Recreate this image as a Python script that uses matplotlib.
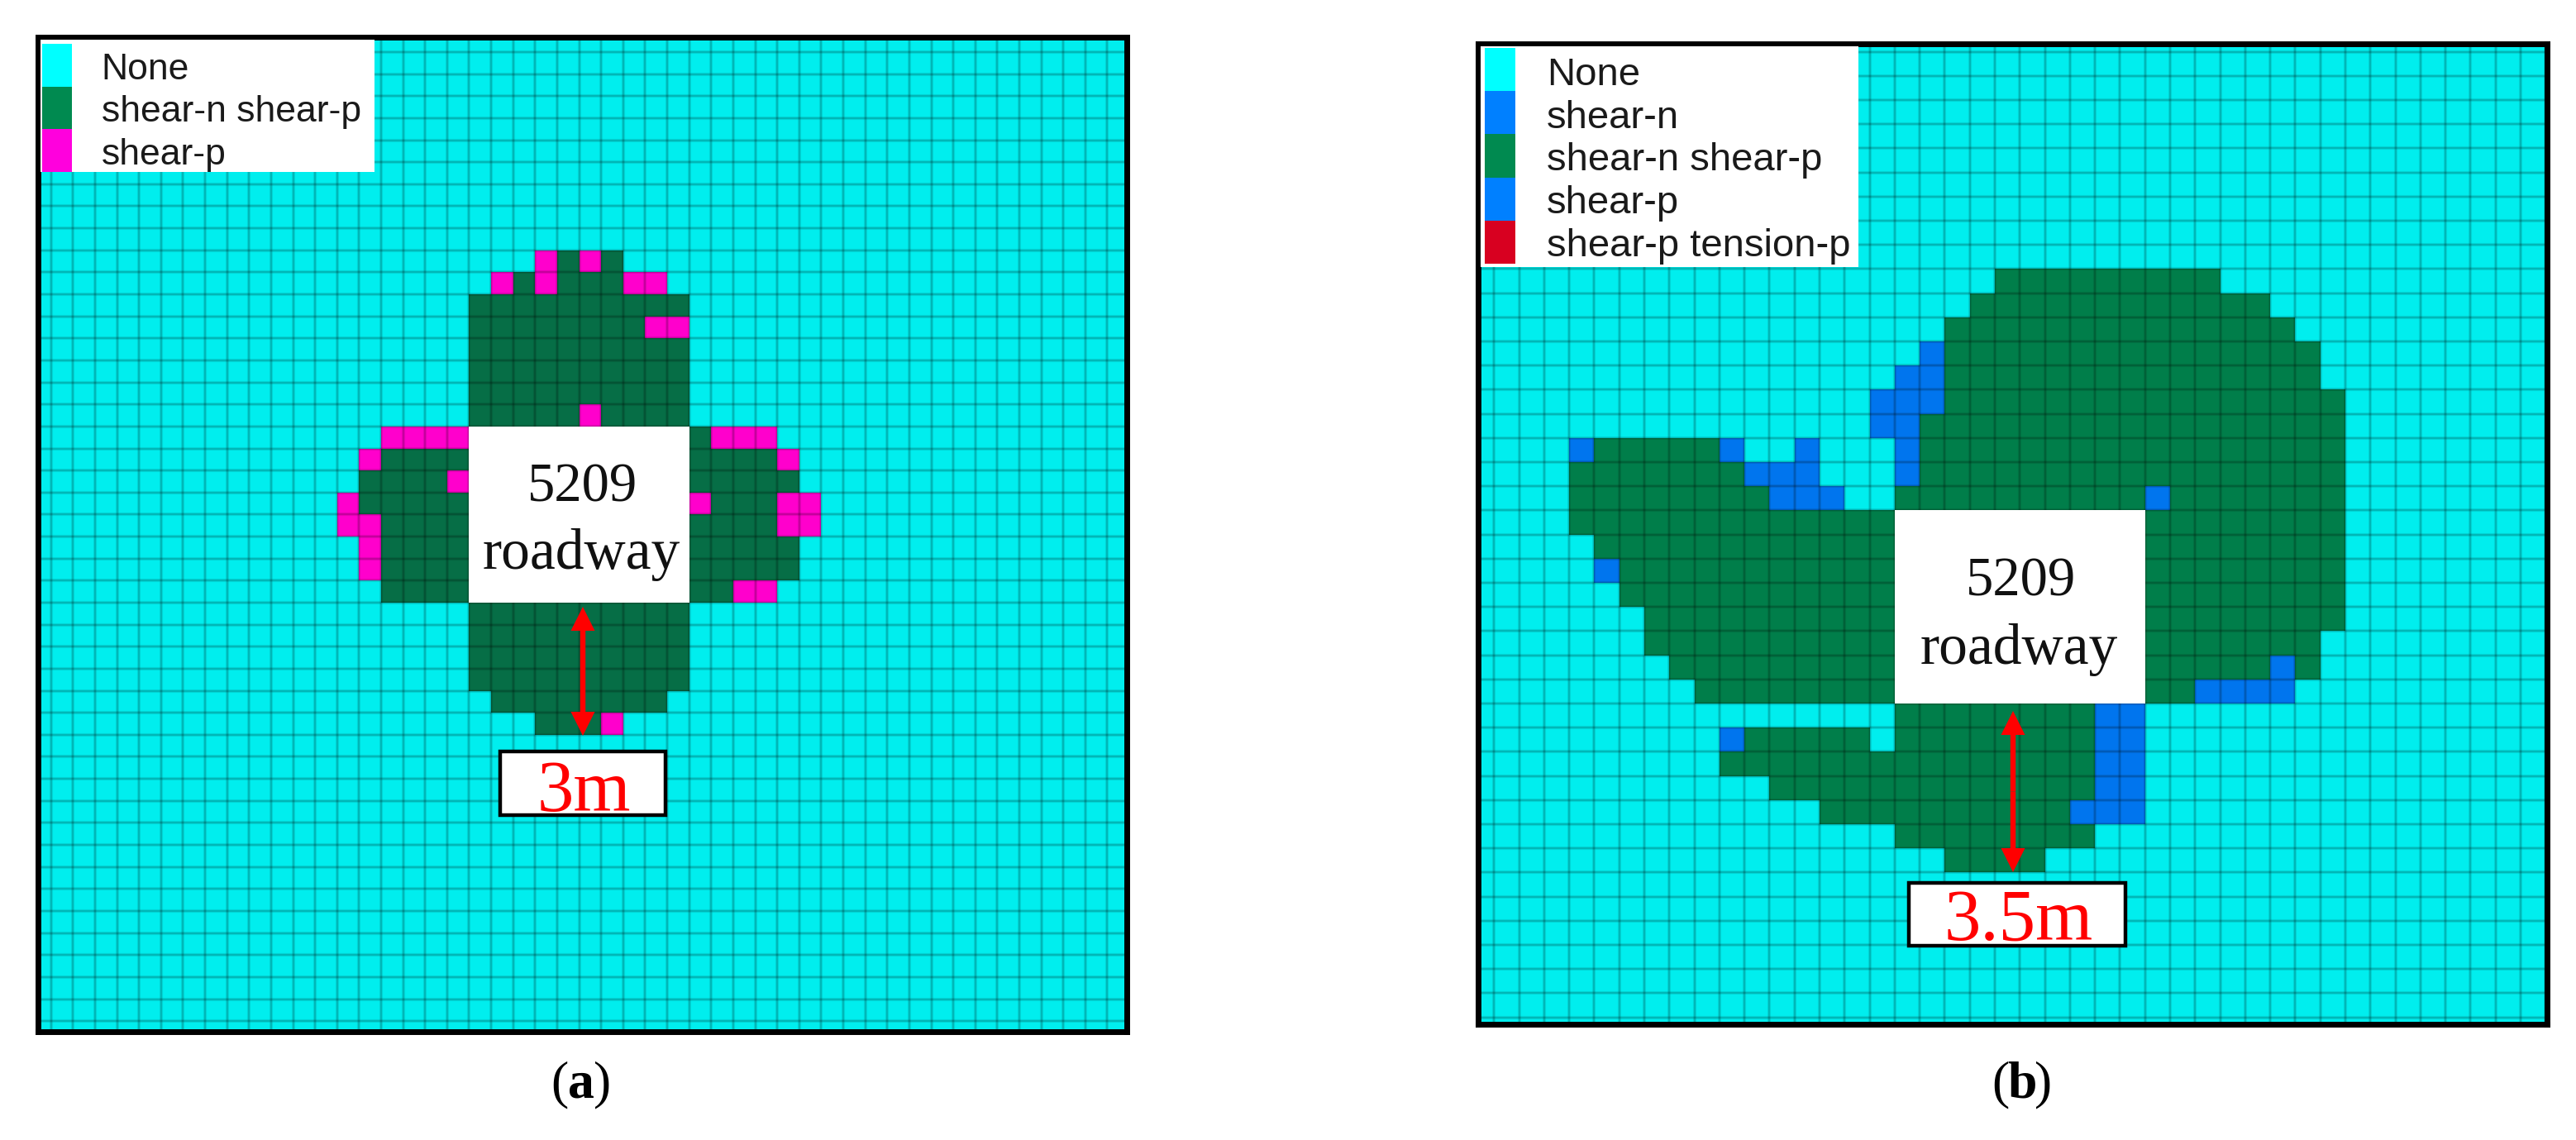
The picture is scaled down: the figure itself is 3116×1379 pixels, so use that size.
import numpy as np
import matplotlib
matplotlib.use("Agg")
import matplotlib.pyplot as plt
from matplotlib.colors import ListedColormap
from matplotlib.patches import Rectangle, FancyArrow

W, H = 3116, 1379

# state of each zone: . none, B shear-n / shear-p (blue), G shear-n shear-p, M shear-p, W roadway
ROWS_A = [
    "..........MGMG..........",
    "........MGMGGGMM........",
    ".......GGGGGGGGGG.......",
    ".......GGGGGGGGMM.......",
    ".......GGGGGGGGGG.......",
    ".......GGGGGGGGGG.......",
    ".......GGGGGGGGGG.......",
    ".......GGGGGMGGGG.......",
    "...MMMMWWWWWWWWWWGMMM...",
    "..MGGGGWWWWWWWWWWGGGGM..",
    "..GGGGMWWWWWWWWWWGGGGG..",
    ".MGGGGGWWWWWWWWWWMGGGMM.",
    ".MMGGGGWWWWWWWWWWGGGGMM.",
    "..MGGGGWWWWWWWWWWGGGGG..",
    "..MGGGGWWWWWWWWWWGGGGG..",
    "...GGGGWWWWWWWWWWGGMM...",
    ".......GGGGGGGGGG.......",
    ".......GGGGGGGGGG.......",
    ".......GGGGGGGGGG.......",
    ".......GGGGGGGGGG.......",
    "........GGGGGGGG........",
    "..........GGGM..........",
]
ROWS_B = [
    "....................GGGGGGGGG.......",
    "...................GGGGGGGGGGGG.....",
    "..................GGGGGGGGGGGGGG....",
    ".................BGGGGGGGGGGGGGGG...",
    "................BBGGGGGGGGGGGGGGG...",
    "...............BBBGGGGGGGGGGGGGGGG..",
    "...............BBGGGGGGGGGGGGGGGGG..",
    "...BGGGGGB..B...BGGGGGGGGGGGGGGGGG..",
    "...GGGGGGGBBB...BGGGGGGGGGGGGGGGGG..",
    "...GGGGGGGGBBB..GGGGGGGGGGBGGGGGGG..",
    "...GGGGGGGGGGGGGWWWWWWWWWWGGGGGGGG..",
    "....GGGGGGGGGGGGWWWWWWWWWWGGGGGGGG..",
    "....BGGGGGGGGGGGWWWWWWWWWWGGGGGGGG..",
    ".....GGGGGGGGGGGWWWWWWWWWWGGGGGGGG..",
    "......GGGGGGGGGGWWWWWWWWWWGGGGGGGG..",
    "......GGGGGGGGGGWWWWWWWWWWGGGGGGG...",
    ".......GGGGGGGGGWWWWWWWWWWGGGGGBG...",
    "........GGGGGGGGWWWWWWWWWWGGBBBB....",
    "................GGGGGGGGBB..........",
    ".........BGGGGG.GGGGGGGGBB..........",
    ".........GGGGGGGGGGGGGGGBB..........",
    "...........GGGGGGGGGGGGGBB..........",
    ".............GGGGGGGGGGBBB..........",
    "................GGGGGGGG............",
    "..................GGGG..............",
]

LEGEND_A = ["None", "shear-n shear-p", "shear-p"]
LEGEND_A_COLORS = ["#00FFFF", "#008A50", "#FF00DD"]
LEGEND_B = ["None", "shear-n", "shear-n shear-p", "shear-p", "shear-p tension-p"]
LEGEND_B_COLORS = ["#00FFFF", "#0080FF", "#008A50", "#0080FF", "#D80020"]

CODES = {".": 0, "B": 1, "G": 2, "M": 3, "W": 4}
CYAN = "#00EEEE"
BLUE = "#0075EE"
MAGENTA = "#FF00CC"
WHITE = "#FFFFFF"
SERIF = ["Liberation Serif", "DejaVu Serif"]
SANS = ["Liberation Sans", "DejaVu Sans"]


def draw_panel(fig, box, rows, first_row, first_col, n_rows, n_cols, x0, dx, y0, dy, green):
    # box is the frame in pixels: left, top, right, bottom
    left, top, right, bottom = box
    ax = fig.add_axes([left / W, 1 - bottom / H, (right - left) / W, (bottom - top) / H])
    grid = np.zeros((n_rows, n_cols))
    for i, row in enumerate(rows):
        for j, ch in enumerate(row):
            grid[first_row + i, first_col + j] = CODES[ch]
    cmap = ListedColormap([CYAN, BLUE, green, MAGENTA, WHITE])
    xs = np.arange(n_cols + 1)
    ys = np.arange(n_rows + 1)
    ax.set_facecolor(CYAN)
    ax.pcolormesh(xs, ys, grid, cmap=cmap, vmin=-0.5, vmax=4.5, zorder=1, antialiased=False)
    # grid lines, two widths to get the soft look of the original
    for lw, alpha in [(3.0, 0.10), (1.4, 0.14)]:
        ax.vlines(xs, -5, n_rows + 5, color="black", lw=lw, alpha=alpha, zorder=2)
        ax.hlines(ys, -5, n_cols + 5, color="black", lw=lw, alpha=alpha, zorder=2)
    road = np.ma.masked_where(grid != 4, grid)
    ax.pcolormesh(xs, ys, road, cmap=ListedColormap([WHITE]), zorder=3)
    ax.set_xlim((left - x0) / dx, (right - x0) / dx)
    ax.set_ylim((bottom - y0) / dy, (top - y0) / dy)
    ax.set_xticks([])
    ax.set_yticks([])
    for s in ax.spines.values():
        s.set_linewidth(5)
        s.set_color("black")
        s.set_zorder(5)
    return ax


def draw_legend(over, box, labels, colors, swatch_x, swatch_top, swatch_h, text_x, base0, font):
    left, top, right, bottom = box
    over.add_patch(Rectangle((left, top), right - left, bottom - top, fc="white", ec="none"))
    for i, (lab, col) in enumerate(zip(labels, colors)):
        over.add_patch(Rectangle((swatch_x[0], swatch_top + i * swatch_h), swatch_x[1] - swatch_x[0],
                                 swatch_h, fc=col, ec="none"))
        over.text(text_x, base0 + i * (swatch_h - 0.3), lab, fontsize=font, family=SANS,
                  va="baseline", ha="left", color="#1a1a1a")


def double_arrow(over, x, top, bottom):
    mid = (top + bottom) / 2
    for end in (top, bottom):
        over.add_patch(FancyArrow(x, mid, 0, end - mid, width=6.5, head_width=29, head_length=29,
                                  length_includes_head=True, fc="#FF0000", ec="none"))


def caption(over, x, base, letter):
    over.text(x - 15, base, "(", fontsize=46, family=SERIF, ha="right", va="baseline")
    over.text(x, base, letter, fontsize=46, family=SERIF, weight="bold", ha="center", va="baseline")
    over.text(x + 15, base, ")", fontsize=46, family=SERIF, ha="left", va="baseline")


fig = plt.figure(figsize=(W / 100, H / 100), dpi=100, facecolor="white")

draw_panel(fig, (46, 44.5, 1363, 1248), ROWS_A, 9, 12, 45, 49, 61.7, 26.62, 63, 26.64, "#066E46")
draw_panel(fig, (1788, 52.5, 3080.5, 1239), ROWS_B, 9, 0, 41, 42, 1807.3, 30.285, 62.5, 29.2, "#007E4A")

# overlay in pixel coordinates for legends, labels and arrows
over = fig.add_axes([0, 0, 1, 1], zorder=10)
over.set_xlim(0, W)
over.set_ylim(H, 0)
over.axis("off")

draw_legend(over, (49.5, 48, 452.7, 207.7), LEGEND_A, LEGEND_A_COLORS, (50.7, 86.7), 53, 51.6, 122.7, 96, 32)
draw_legend(over, (1791, 56, 2248, 323), LEGEND_B, LEGEND_B_COLORS, (1795.7, 1833), 58, 52.2, 1870.7, 102.7, 34)

over.text(704.5, 606.5, "5209", fontsize=48, family=SERIF, ha="center", va="baseline", color="#111111")
over.text(703.5, 688, "roadway", fontsize=50, family=SERIF, ha="center", va="baseline", color="#111111")
over.text(2445, 720.7, "5209", fontsize=48, family=SERIF, ha="center", va="baseline", color="#111111")
over.text(2442, 802.5, "roadway", fontsize=50, family=SERIF, ha="center", va="baseline", color="#111111")

double_arrow(over, 705, 734, 890)
double_arrow(over, 2435, 860, 1055)

over.add_patch(Rectangle((605, 909), 200, 77, fc="white", ec="black", lw=3.2))
over.add_patch(Rectangle((2309, 1068), 262, 76, fc="white", ec="black", lw=3.2))
over.text(706, 980.7, "3m", fontsize=64, family=SERIF, color="#FF0000", ha="center", va="baseline")
over.text(2441.7, 1136.7, "3.5m", fontsize=64, family=SERIF, color="#FF0000", ha="center", va="baseline")

caption(over, 703, 1327, "a")
caption(over, 2446, 1327, "b")

fig.savefig("out.png", dpi=100)
